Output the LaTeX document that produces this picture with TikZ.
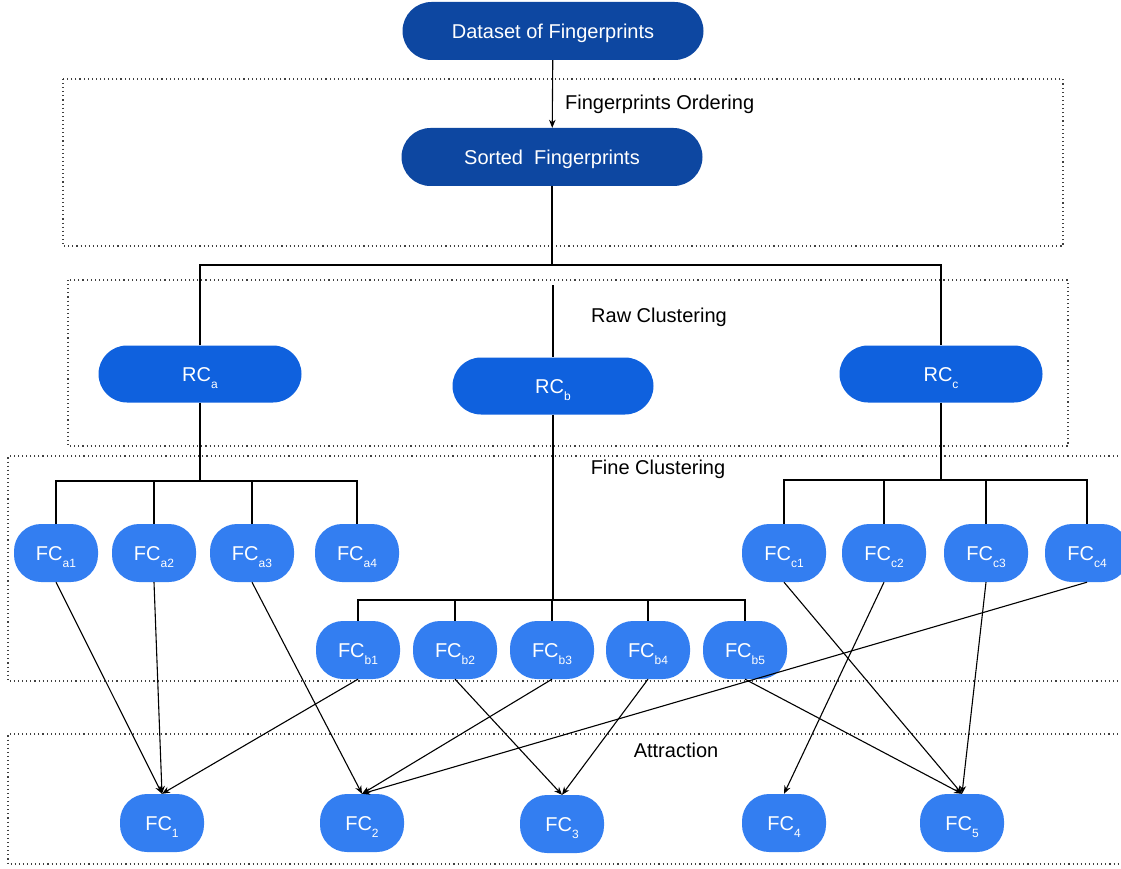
\documentclass[tikz,border=0pt]{standalone}
\usepackage{fontspec}
\setmainfont{Liberation Sans}
\usetikzlibrary{arrows.meta}

\definecolor{navy}{RGB}{13,71,161}
\definecolor{rcblue}{RGB}{15,97,222}
\definecolor{fcblue}{RGB}{51,126,241}

% subscript that hangs below the label without shifting its centre
\newcommand{\lowidx}[1]{\smash{\raisebox{-7.5pt}{\fontsize{12}{12}\selectfont #1}}}

\tikzset{
  pill/.style={fill, text=white, inner sep=0pt,
    font=\fontsize{20}{24}\selectfont, text height=14.3pt, text depth=0pt},
  topbox/.style={pill, fill=navy, minimum width=301pt, minimum height=58pt, rounded corners=29pt},
  rcbox/.style={pill, fill=rcblue, minimum width=203pt, minimum height=57pt, rounded corners=28.5pt},
  fcbox/.style={pill, fill=fcblue, minimum width=84pt, minimum height=58pt, rounded corners=27pt},
  zone/.style={draw=black!75, line width=1.1pt, dash pattern=on 1.1pt off 3pt},
  link/.style={draw=black, line width=1.2pt},
  flow/.style={draw=black, line width=1.1pt, -{Stealth[length=8pt,width=6.5pt]}},
  caption/.style={font=\fontsize{20}{24}\selectfont, text=black, inner sep=0pt}
}

\begin{document}
\begin{tikzpicture}[x=1pt,y=-1pt]
\useasboundingbox (0,0) rectangle (1121,869);
\clip (0,0) rectangle (1121,869);

% stage frames
\draw[zone] (63,79) rectangle (1063,246);
\draw[zone] (68,280) rectangle (1068,446);
\draw[zone] (1130,456) -| (8,681) -- (1130,681);
\draw[zone] (1130,734) -| (8,864) -- (1130,864);

% stage captions
\node[caption, anchor=west] (lblOrder) at (565,104) {Fingerprints Ordering};
\node[caption] (lblRaw) at (659,317) {Raw Clustering};
\node[caption] (lblFine) at (658,469) {Fine Clustering};
\node[caption] (lblAttr) at (676,750) {Attraction};

% input and ordering
\node[topbox] (data) at (553,31) {Dataset of Fingerprints};
\node[topbox] (sorted) at (552,157) {Sorted\ \ Fingerprints};

% raw clusters
\node[rcbox] (rca) at (200,374) {RC\lowidx{a}};
\node[rcbox, minimum width=201pt] (rcb) at (553,386) {RC\lowidx{b}};
\node[rcbox] (rcc) at (941,374) {RC\lowidx{c}};

% fine clusters
\node[fcbox] (fca1) at (56,553) {FC\lowidx{a1}};
\node[fcbox] (fca2) at (154,553) {FC\lowidx{a2}};
\node[fcbox] (fca3) at (252,553) {FC\lowidx{a3}};
\node[fcbox] (fca4) at (357,553) {FC\lowidx{a4}};

\node[fcbox] (fcb1) at (358,650) {FC\lowidx{b1}};
\node[fcbox] (fcb2) at (455,650) {FC\lowidx{b2}};
\node[fcbox] (fcb3) at (552,650) {FC\lowidx{b3}};
\node[fcbox] (fcb4) at (648,650) {FC\lowidx{b4}};
\node[fcbox] (fcb5) at (745,650) {FC\lowidx{b5}};

\node[fcbox] (fcc1) at (784,553) {FC\lowidx{c1}};
\node[fcbox] (fcc2) at (884,553) {FC\lowidx{c2}};
\node[fcbox] (fcc3) at (986,553) {FC\lowidx{c3}};
\node[fcbox] (fcc4) at (1087,553) {FC\lowidx{c4}};

% attracted clusters
\node[fcbox] (fc1) at (162,823) {FC\lowidx{1}};
\node[fcbox] (fc2) at (362,823) {FC\lowidx{2}};
\node[fcbox] (fc3) at (562,824) {FC\lowidx{3}};
\node[fcbox] (fc4) at (784,823) {FC\lowidx{4}};
\node[fcbox] (fc5) at (962,823) {FC\lowidx{5}};

% ordering arrow
\draw[flow] (data) -- (sorted);

% tree from sorted set to raw clusters
\coordinate (busTop) at (552,265);
\coordinate (stubB) at (553,285);
\draw[link] (sorted.south) -- (busTop);
\draw[link] (rca.north) |- (rcc.north |- busTop) -- (rcc.north);
\draw[link] (stubB) -- (rcb.north);

% tree RC_a
\coordinate (busA) at (200,481);
\draw[link] (rca.south) -- (busA);
\draw[link] (fca1.north) |- (fca4.north |- busA) -- (fca4.north);
\draw[link] (fca2.north) -- (fca2.north |- busA);
\draw[link] (fca3.north) -- (fca3.north |- busA);

% tree RC_b
\coordinate (busB) at (553,600);
\draw[link] (rcb.south) -- (busB);
\draw[link] (fcb1.north) |- (fcb5.north |- busB) -- (fcb5.north);
\draw[link] (fcb2.north) -- (fcb2.north |- busB);
\draw[link] (fcb3.north) -- (fcb3.north |- busB);
\draw[link] (fcb4.north) -- (fcb4.north |- busB);

% tree RC_c
\coordinate (busC) at (941,480);
\draw[link] (rcc.south) -- (busC);
\draw[link] (fcc1.north) |- (fcc4.north |- busC) -- (fcc4.north);
\draw[link] (fcc2.north) -- (fcc2.north |- busC);
\draw[link] (fcc3.north) -- (fcc3.north |- busC);

% attraction
\draw[flow] (fca1.south) -- (fc1.north);
\draw[flow] (fca2.south) -- (fc1.north);
\draw[flow] (fcb1.south) -- (fc1.north);
\draw[flow] (fca3.south) -- (fc2.north);
\draw[flow] (fcb3.south) -- (fc2.north);
\draw[flow] (fcc4.south) -- (fc2.north);
\draw[flow] (fcb2.south) -- (fc3.north);
\draw[flow] (fcb4.south) -- (fc3.north);
\draw[flow] (fcc2.south) -- (fc4.north);
\draw[flow] (fcb5.south) -- (fc5.north);
\draw[flow] (fcc1.south) -- (fc5.north);
\draw[flow] (fcc3.south) -- (fc5.north);
\end{tikzpicture}
\end{document}
